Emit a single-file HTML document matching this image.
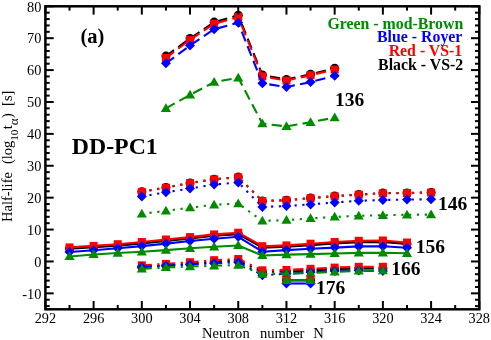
<!DOCTYPE html>
<html><head><meta charset="utf-8"><title>chart</title>
<style>
html,body{margin:0;padding:0;background:#fff;}
svg{display:block;font-family:"Liberation Serif",serif;will-change:opacity;}
</style></head><body>
<svg width="491" height="340" viewBox="0 0 491 340">
<polyline points="165.93,56.10 190.03,38.50 214.14,22.10 238.24,15.30 262.35,75.00 286.46,79.50 310.56,74.30 334.67,68.20" fill="none" stroke="#000000" stroke-width="2.1" stroke-dasharray="10.3 5.34" stroke-dashoffset="0.26" stroke-linejoin="round"/>
<circle cx="165.93" cy="56.10" r="4.5" fill="#000000"/>
<circle cx="190.03" cy="38.50" r="4.5" fill="#000000"/>
<circle cx="214.14" cy="22.10" r="4.5" fill="#000000"/>
<circle cx="238.24" cy="15.30" r="4.5" fill="#000000"/>
<circle cx="262.35" cy="75.00" r="4.5" fill="#000000"/>
<circle cx="286.46" cy="79.50" r="4.5" fill="#000000"/>
<circle cx="310.56" cy="74.30" r="4.5" fill="#000000"/>
<circle cx="334.67" cy="68.20" r="4.5" fill="#000000"/>
<polyline points="165.93,57.90 190.03,39.80 214.14,23.70 238.24,17.10 262.35,76.40 286.46,80.60 310.56,75.20 334.67,69.60" fill="none" stroke="#ff0000" stroke-width="2.1" stroke-dasharray="10.3 5.34" stroke-dashoffset="0.26" stroke-linejoin="round"/>
<rect x="161.93" y="53.90" width="8.0" height="8.0" fill="#ff0000"/>
<rect x="186.03" y="35.80" width="8.0" height="8.0" fill="#ff0000"/>
<rect x="210.14" y="19.70" width="8.0" height="8.0" fill="#ff0000"/>
<rect x="234.24" y="13.10" width="8.0" height="8.0" fill="#ff0000"/>
<rect x="258.35" y="72.40" width="8.0" height="8.0" fill="#ff0000"/>
<rect x="282.46" y="76.60" width="8.0" height="8.0" fill="#ff0000"/>
<rect x="306.56" y="71.20" width="8.0" height="8.0" fill="#ff0000"/>
<rect x="330.67" y="65.60" width="8.0" height="8.0" fill="#ff0000"/>
<polyline points="165.93,63.30 190.03,45.50 214.14,29.20 238.24,22.80 262.35,83.30 286.46,87.00 310.56,82.10 334.67,75.70" fill="none" stroke="#0000ff" stroke-width="2.1" stroke-dasharray="10.3 5.34" stroke-dashoffset="0.26" stroke-linejoin="round"/>
<path d="M165.93 58.30L170.93 63.30L165.93 68.30L160.93 63.30Z" fill="#0000ff"/>
<path d="M190.03 40.50L195.03 45.50L190.03 50.50L185.03 45.50Z" fill="#0000ff"/>
<path d="M214.14 24.20L219.14 29.20L214.14 34.20L209.14 29.20Z" fill="#0000ff"/>
<path d="M238.24 17.80L243.24 22.80L238.24 27.80L233.24 22.80Z" fill="#0000ff"/>
<path d="M262.35 78.30L267.35 83.30L262.35 88.30L257.35 83.30Z" fill="#0000ff"/>
<path d="M286.46 82.00L291.46 87.00L286.46 92.00L281.46 87.00Z" fill="#0000ff"/>
<path d="M310.56 77.10L315.56 82.10L310.56 87.10L305.56 82.10Z" fill="#0000ff"/>
<path d="M334.67 70.70L339.67 75.70L334.67 80.70L329.67 75.70Z" fill="#0000ff"/>
<polyline points="165.93,108.35 190.03,94.85 214.14,82.15 238.24,77.75 262.35,123.55 286.46,126.45 310.56,122.25 334.67,117.65" fill="none" stroke="#008b00" stroke-width="2.1" stroke-dasharray="10.3 5.34" stroke-dashoffset="0.26" stroke-linejoin="round"/>
<path d="M165.93 103.25L170.98 112.00L160.88 112.00Z" fill="#008b00"/>
<path d="M190.03 89.75L195.08 98.50L184.98 98.50Z" fill="#008b00"/>
<path d="M214.14 77.05L219.19 85.80L209.09 85.80Z" fill="#008b00"/>
<path d="M238.24 72.65L243.29 81.40L233.19 81.40Z" fill="#008b00"/>
<path d="M262.35 118.45L267.40 127.20L257.30 127.20Z" fill="#008b00"/>
<path d="M286.46 121.35L291.51 130.10L281.41 130.10Z" fill="#008b00"/>
<path d="M310.56 117.15L315.61 125.90L305.51 125.90Z" fill="#008b00"/>
<path d="M334.67 112.55L339.72 121.30L329.62 121.30Z" fill="#008b00"/>
<polyline points="141.82,191.70 165.93,187.50 190.03,183.00 214.14,179.20 238.24,177.10 262.35,200.90 286.46,200.20 310.56,198.00 334.67,196.10 358.77,194.50 382.88,193.10 406.98,192.90 431.09,192.40" fill="none" stroke="#000000" stroke-width="2.1" stroke-dasharray="2.2 5.62" stroke-dashoffset="0.12" stroke-linejoin="round"/>
<circle cx="141.82" cy="191.70" r="4.5" fill="#000000"/>
<circle cx="165.93" cy="187.50" r="4.5" fill="#000000"/>
<circle cx="190.03" cy="183.00" r="4.5" fill="#000000"/>
<circle cx="214.14" cy="179.20" r="4.5" fill="#000000"/>
<circle cx="238.24" cy="177.10" r="4.5" fill="#000000"/>
<circle cx="262.35" cy="200.90" r="4.5" fill="#000000"/>
<circle cx="286.46" cy="200.20" r="4.5" fill="#000000"/>
<circle cx="310.56" cy="198.00" r="4.5" fill="#000000"/>
<circle cx="334.67" cy="196.10" r="4.5" fill="#000000"/>
<circle cx="358.77" cy="194.50" r="4.5" fill="#000000"/>
<circle cx="382.88" cy="193.10" r="4.5" fill="#000000"/>
<circle cx="406.98" cy="192.90" r="4.5" fill="#000000"/>
<circle cx="431.09" cy="192.40" r="4.5" fill="#000000"/>
<polyline points="141.82,191.90 165.93,187.70 190.03,183.20 214.14,179.40 238.24,177.30 262.35,201.10 286.46,200.40 310.56,198.20 334.67,196.30 358.77,194.70 382.88,193.30 406.98,193.10 431.09,192.60" fill="none" stroke="#ff0000" stroke-width="2.1" stroke-dasharray="2.2 5.62" stroke-dashoffset="0.12" stroke-linejoin="round"/>
<rect x="137.82" y="187.90" width="8.0" height="8.0" fill="#ff0000"/>
<rect x="161.93" y="183.70" width="8.0" height="8.0" fill="#ff0000"/>
<rect x="186.03" y="179.20" width="8.0" height="8.0" fill="#ff0000"/>
<rect x="210.14" y="175.40" width="8.0" height="8.0" fill="#ff0000"/>
<rect x="234.24" y="173.30" width="8.0" height="8.0" fill="#ff0000"/>
<rect x="258.35" y="197.10" width="8.0" height="8.0" fill="#ff0000"/>
<rect x="282.46" y="196.40" width="8.0" height="8.0" fill="#ff0000"/>
<rect x="306.56" y="194.20" width="8.0" height="8.0" fill="#ff0000"/>
<rect x="330.67" y="192.30" width="8.0" height="8.0" fill="#ff0000"/>
<rect x="354.77" y="190.70" width="8.0" height="8.0" fill="#ff0000"/>
<rect x="378.88" y="189.30" width="8.0" height="8.0" fill="#ff0000"/>
<rect x="402.98" y="189.10" width="8.0" height="8.0" fill="#ff0000"/>
<rect x="427.09" y="188.60" width="8.0" height="8.0" fill="#ff0000"/>
<polyline points="141.82,196.60 165.93,192.20 190.03,188.50 214.14,184.60 238.24,182.40 262.35,206.90 286.46,206.10 310.56,204.40 334.67,202.50 358.77,200.80 382.88,200.00 406.98,199.50 431.09,199.30" fill="none" stroke="#0000ff" stroke-width="2.1" stroke-dasharray="2.2 5.62" stroke-dashoffset="0.12" stroke-linejoin="round"/>
<path d="M141.82 191.60L146.82 196.60L141.82 201.60L136.82 196.60Z" fill="#0000ff"/>
<path d="M165.93 187.20L170.93 192.20L165.93 197.20L160.93 192.20Z" fill="#0000ff"/>
<path d="M190.03 183.50L195.03 188.50L190.03 193.50L185.03 188.50Z" fill="#0000ff"/>
<path d="M214.14 179.60L219.14 184.60L214.14 189.60L209.14 184.60Z" fill="#0000ff"/>
<path d="M238.24 177.40L243.24 182.40L238.24 187.40L233.24 182.40Z" fill="#0000ff"/>
<path d="M262.35 201.90L267.35 206.90L262.35 211.90L257.35 206.90Z" fill="#0000ff"/>
<path d="M286.46 201.10L291.46 206.10L286.46 211.10L281.46 206.10Z" fill="#0000ff"/>
<path d="M310.56 199.40L315.56 204.40L310.56 209.40L305.56 204.40Z" fill="#0000ff"/>
<path d="M334.67 197.50L339.67 202.50L334.67 207.50L329.67 202.50Z" fill="#0000ff"/>
<path d="M358.77 195.80L363.77 200.80L358.77 205.80L353.77 200.80Z" fill="#0000ff"/>
<path d="M382.88 195.00L387.88 200.00L382.88 205.00L377.88 200.00Z" fill="#0000ff"/>
<path d="M406.98 194.50L411.98 199.50L406.98 204.50L401.98 199.50Z" fill="#0000ff"/>
<path d="M431.09 194.30L436.09 199.30L431.09 204.30L426.09 199.30Z" fill="#0000ff"/>
<polyline points="141.82,213.85 165.93,210.85 190.03,207.65 214.14,204.75 238.24,203.55 262.35,220.85 286.46,220.15 310.56,218.45 334.67,216.95 358.77,215.75 382.88,215.25 406.98,214.75 431.09,214.55" fill="none" stroke="#008b00" stroke-width="2.1" stroke-dasharray="2.2 5.62" stroke-dashoffset="0.12" stroke-linejoin="round"/>
<path d="M141.82 208.75L146.87 217.50L136.77 217.50Z" fill="#008b00"/>
<path d="M165.93 205.75L170.98 214.50L160.88 214.50Z" fill="#008b00"/>
<path d="M190.03 202.55L195.08 211.30L184.98 211.30Z" fill="#008b00"/>
<path d="M214.14 199.65L219.19 208.40L209.09 208.40Z" fill="#008b00"/>
<path d="M238.24 198.45L243.29 207.20L233.19 207.20Z" fill="#008b00"/>
<path d="M262.35 215.75L267.40 224.50L257.30 224.50Z" fill="#008b00"/>
<path d="M286.46 215.05L291.51 223.80L281.41 223.80Z" fill="#008b00"/>
<path d="M310.56 213.35L315.61 222.10L305.51 222.10Z" fill="#008b00"/>
<path d="M334.67 211.85L339.72 220.60L329.62 220.60Z" fill="#008b00"/>
<path d="M358.77 210.65L363.82 219.40L353.72 219.40Z" fill="#008b00"/>
<path d="M382.88 210.15L387.93 218.90L377.83 218.90Z" fill="#008b00"/>
<path d="M406.98 209.65L412.03 218.40L401.93 218.40Z" fill="#008b00"/>
<path d="M431.09 209.45L436.14 218.20L426.04 218.20Z" fill="#008b00"/>
<polyline points="69.51,248.80 93.61,247.30 117.72,245.60 141.82,243.40 165.93,240.90 190.03,238.50 214.14,235.80 238.24,234.10 262.35,247.60 286.46,246.80 310.56,245.10 334.67,243.40 358.77,242.20 382.88,241.90 406.98,243.90" fill="none" stroke="#000000" stroke-width="2.1" stroke-linejoin="round"/>
<circle cx="69.51" cy="248.80" r="4.5" fill="#000000"/>
<circle cx="93.61" cy="247.30" r="4.5" fill="#000000"/>
<circle cx="117.72" cy="245.60" r="4.5" fill="#000000"/>
<circle cx="141.82" cy="243.40" r="4.5" fill="#000000"/>
<circle cx="165.93" cy="240.90" r="4.5" fill="#000000"/>
<circle cx="190.03" cy="238.50" r="4.5" fill="#000000"/>
<circle cx="214.14" cy="235.80" r="4.5" fill="#000000"/>
<circle cx="238.24" cy="234.10" r="4.5" fill="#000000"/>
<circle cx="262.35" cy="247.60" r="4.5" fill="#000000"/>
<circle cx="286.46" cy="246.80" r="4.5" fill="#000000"/>
<circle cx="310.56" cy="245.10" r="4.5" fill="#000000"/>
<circle cx="334.67" cy="243.40" r="4.5" fill="#000000"/>
<circle cx="358.77" cy="242.20" r="4.5" fill="#000000"/>
<circle cx="382.88" cy="241.90" r="4.5" fill="#000000"/>
<circle cx="406.98" cy="243.90" r="4.5" fill="#000000"/>
<polyline points="69.51,247.40 93.61,245.90 117.72,244.20 141.82,242.00 165.93,239.50 190.03,237.10 214.14,234.40 238.24,232.70 262.35,246.20 286.46,245.40 310.56,243.70 334.67,242.00 358.77,240.80 382.88,240.50 406.98,242.50" fill="none" stroke="#ff0000" stroke-width="2.1" stroke-linejoin="round"/>
<rect x="65.51" y="243.40" width="8.0" height="8.0" fill="#ff0000"/>
<rect x="89.61" y="241.90" width="8.0" height="8.0" fill="#ff0000"/>
<rect x="113.72" y="240.20" width="8.0" height="8.0" fill="#ff0000"/>
<rect x="137.82" y="238.00" width="8.0" height="8.0" fill="#ff0000"/>
<rect x="161.93" y="235.50" width="8.0" height="8.0" fill="#ff0000"/>
<rect x="186.03" y="233.10" width="8.0" height="8.0" fill="#ff0000"/>
<rect x="210.14" y="230.40" width="8.0" height="8.0" fill="#ff0000"/>
<rect x="234.24" y="228.70" width="8.0" height="8.0" fill="#ff0000"/>
<rect x="258.35" y="242.20" width="8.0" height="8.0" fill="#ff0000"/>
<rect x="282.46" y="241.40" width="8.0" height="8.0" fill="#ff0000"/>
<rect x="306.56" y="239.70" width="8.0" height="8.0" fill="#ff0000"/>
<rect x="330.67" y="238.00" width="8.0" height="8.0" fill="#ff0000"/>
<rect x="354.77" y="236.80" width="8.0" height="8.0" fill="#ff0000"/>
<rect x="378.88" y="236.50" width="8.0" height="8.0" fill="#ff0000"/>
<rect x="402.98" y="238.50" width="8.0" height="8.0" fill="#ff0000"/>
<polyline points="69.51,252.00 93.61,250.30 117.72,248.30 141.82,246.10 165.93,243.60 190.03,241.00 214.14,238.80 238.24,236.80 262.35,251.70 286.46,250.10 310.56,248.70 334.67,247.60 358.77,246.40 382.88,246.20 406.98,247.80" fill="none" stroke="#0000ff" stroke-width="2.1" stroke-linejoin="round"/>
<path d="M69.51 247.00L74.51 252.00L69.51 257.00L64.51 252.00Z" fill="#0000ff"/>
<path d="M93.61 245.30L98.61 250.30L93.61 255.30L88.61 250.30Z" fill="#0000ff"/>
<path d="M117.72 243.30L122.72 248.30L117.72 253.30L112.72 248.30Z" fill="#0000ff"/>
<path d="M141.82 241.10L146.82 246.10L141.82 251.10L136.82 246.10Z" fill="#0000ff"/>
<path d="M165.93 238.60L170.93 243.60L165.93 248.60L160.93 243.60Z" fill="#0000ff"/>
<path d="M190.03 236.00L195.03 241.00L190.03 246.00L185.03 241.00Z" fill="#0000ff"/>
<path d="M214.14 233.80L219.14 238.80L214.14 243.80L209.14 238.80Z" fill="#0000ff"/>
<path d="M238.24 231.80L243.24 236.80L238.24 241.80L233.24 236.80Z" fill="#0000ff"/>
<path d="M262.35 246.70L267.35 251.70L262.35 256.70L257.35 251.70Z" fill="#0000ff"/>
<path d="M286.46 245.10L291.46 250.10L286.46 255.10L281.46 250.10Z" fill="#0000ff"/>
<path d="M310.56 243.70L315.56 248.70L310.56 253.70L305.56 248.70Z" fill="#0000ff"/>
<path d="M334.67 242.60L339.67 247.60L334.67 252.60L329.67 247.60Z" fill="#0000ff"/>
<path d="M358.77 241.40L363.77 246.40L358.77 251.40L353.77 246.40Z" fill="#0000ff"/>
<path d="M382.88 241.20L387.88 246.20L382.88 251.20L377.88 246.20Z" fill="#0000ff"/>
<path d="M406.98 242.80L411.98 247.80L406.98 252.80L401.98 247.80Z" fill="#0000ff"/>
<polyline points="69.51,256.45 93.61,254.45 117.72,253.05 141.82,251.75 165.93,250.15 190.03,248.25 214.14,246.75 238.24,245.45 262.35,255.45 286.46,254.65 310.56,254.15 334.67,253.45 358.77,252.85 382.88,252.75 406.98,253.25" fill="none" stroke="#008b00" stroke-width="2.1" stroke-linejoin="round"/>
<path d="M69.51 251.35L74.56 260.10L64.46 260.10Z" fill="#008b00"/>
<path d="M93.61 249.35L98.66 258.10L88.56 258.10Z" fill="#008b00"/>
<path d="M117.72 247.95L122.77 256.70L112.67 256.70Z" fill="#008b00"/>
<path d="M141.82 246.65L146.87 255.40L136.77 255.40Z" fill="#008b00"/>
<path d="M165.93 245.05L170.98 253.80L160.88 253.80Z" fill="#008b00"/>
<path d="M190.03 243.15L195.08 251.90L184.98 251.90Z" fill="#008b00"/>
<path d="M214.14 241.65L219.19 250.40L209.09 250.40Z" fill="#008b00"/>
<path d="M238.24 240.35L243.29 249.10L233.19 249.10Z" fill="#008b00"/>
<path d="M262.35 250.35L267.40 259.10L257.30 259.10Z" fill="#008b00"/>
<path d="M286.46 249.55L291.51 258.30L281.41 258.30Z" fill="#008b00"/>
<path d="M310.56 249.05L315.61 257.80L305.51 257.80Z" fill="#008b00"/>
<path d="M334.67 248.35L339.72 257.10L329.62 257.10Z" fill="#008b00"/>
<path d="M358.77 247.75L363.82 256.50L353.72 256.50Z" fill="#008b00"/>
<path d="M382.88 247.65L387.93 256.40L377.83 256.40Z" fill="#008b00"/>
<path d="M406.98 248.15L412.03 256.90L401.93 256.90Z" fill="#008b00"/>
<polyline points="141.82,266.90 165.93,265.50 190.03,263.80 214.14,261.80 238.24,260.60 262.35,271.90 286.46,271.60" fill="none" stroke="#000000" stroke-width="2.1" stroke-dasharray="10.3 5.49 2.2 5.47" stroke-dashoffset="0.26" stroke-linejoin="round"/>
<polyline points="286.46,271.60 310.56,270.40 334.67,269.20 358.77,268.40 382.88,268.40" fill="none" stroke="#000000" stroke-width="2.1" stroke-dasharray="10.3 5.49 2.2 5.47" stroke-dashoffset="16.76" stroke-linejoin="round"/>
<circle cx="141.82" cy="266.90" r="4.5" fill="#000000"/>
<circle cx="165.93" cy="265.50" r="4.5" fill="#000000"/>
<circle cx="190.03" cy="263.80" r="4.5" fill="#000000"/>
<circle cx="214.14" cy="261.80" r="4.5" fill="#000000"/>
<circle cx="238.24" cy="260.60" r="4.5" fill="#000000"/>
<circle cx="262.35" cy="271.90" r="4.5" fill="#000000"/>
<circle cx="286.46" cy="271.60" r="4.5" fill="#000000"/>
<circle cx="310.56" cy="270.40" r="4.5" fill="#000000"/>
<circle cx="334.67" cy="269.20" r="4.5" fill="#000000"/>
<circle cx="358.77" cy="268.40" r="4.5" fill="#000000"/>
<circle cx="382.88" cy="268.40" r="4.5" fill="#000000"/>
<polyline points="141.82,265.30 165.93,263.90 190.03,262.20 214.14,260.20 238.24,259.00 262.35,270.30 286.46,270.00" fill="none" stroke="#ff0000" stroke-width="2.1" stroke-dasharray="10.3 5.49 2.2 5.47" stroke-dashoffset="0.26" stroke-linejoin="round"/>
<polyline points="286.46,270.00 310.56,268.80 334.67,267.60 358.77,266.80 382.88,266.80" fill="none" stroke="#ff0000" stroke-width="2.1" stroke-dasharray="10.3 5.49 2.2 5.47" stroke-dashoffset="16.76" stroke-linejoin="round"/>
<rect x="137.82" y="261.30" width="8.0" height="8.0" fill="#ff0000"/>
<rect x="161.93" y="259.90" width="8.0" height="8.0" fill="#ff0000"/>
<rect x="186.03" y="258.20" width="8.0" height="8.0" fill="#ff0000"/>
<rect x="210.14" y="256.20" width="8.0" height="8.0" fill="#ff0000"/>
<rect x="234.24" y="255.00" width="8.0" height="8.0" fill="#ff0000"/>
<rect x="258.35" y="266.30" width="8.0" height="8.0" fill="#ff0000"/>
<rect x="282.46" y="266.00" width="8.0" height="8.0" fill="#ff0000"/>
<rect x="306.56" y="264.80" width="8.0" height="8.0" fill="#ff0000"/>
<rect x="330.67" y="263.60" width="8.0" height="8.0" fill="#ff0000"/>
<rect x="354.77" y="262.80" width="8.0" height="8.0" fill="#ff0000"/>
<rect x="378.88" y="262.80" width="8.0" height="8.0" fill="#ff0000"/>
<polyline points="141.82,267.10 165.93,265.80 190.03,264.50 214.14,263.30 238.24,262.20 262.35,275.20 286.46,273.80" fill="none" stroke="#0000ff" stroke-width="2.1" stroke-dasharray="10.3 5.49 2.2 5.47" stroke-dashoffset="0.26" stroke-linejoin="round"/>
<polyline points="286.46,273.80 310.56,272.30 334.67,271.10 358.77,270.60 382.88,271.00" fill="none" stroke="#0000ff" stroke-width="2.1" stroke-dasharray="10.3 5.49 2.2 5.47" stroke-dashoffset="16.76" stroke-linejoin="round"/>
<path d="M141.82 262.10L146.82 267.10L141.82 272.10L136.82 267.10Z" fill="#0000ff"/>
<path d="M165.93 260.80L170.93 265.80L165.93 270.80L160.93 265.80Z" fill="#0000ff"/>
<path d="M190.03 259.50L195.03 264.50L190.03 269.50L185.03 264.50Z" fill="#0000ff"/>
<path d="M214.14 258.30L219.14 263.30L214.14 268.30L209.14 263.30Z" fill="#0000ff"/>
<path d="M238.24 257.20L243.24 262.20L238.24 267.20L233.24 262.20Z" fill="#0000ff"/>
<path d="M262.35 270.20L267.35 275.20L262.35 280.20L257.35 275.20Z" fill="#0000ff"/>
<path d="M286.46 268.80L291.46 273.80L286.46 278.80L281.46 273.80Z" fill="#0000ff"/>
<path d="M310.56 267.30L315.56 272.30L310.56 277.30L305.56 272.30Z" fill="#0000ff"/>
<path d="M334.67 266.10L339.67 271.10L334.67 276.10L329.67 271.10Z" fill="#0000ff"/>
<path d="M358.77 265.60L363.77 270.60L358.77 275.60L353.77 270.60Z" fill="#0000ff"/>
<path d="M382.88 266.00L387.88 271.00L382.88 276.00L377.88 271.00Z" fill="#0000ff"/>
<polyline points="141.82,268.95 165.93,267.45 190.03,266.55 214.14,265.75 238.24,265.05 262.35,274.15 286.46,273.55" fill="none" stroke="#008b00" stroke-width="2.1" stroke-dasharray="10.3 5.49 2.2 5.47" stroke-dashoffset="0.26" stroke-linejoin="round"/>
<polyline points="286.46,273.55 310.56,273.15 334.67,271.85 358.77,270.85 382.88,270.65" fill="none" stroke="#008b00" stroke-width="2.1" stroke-dasharray="10.3 5.49 2.2 5.47" stroke-dashoffset="16.76" stroke-linejoin="round"/>
<path d="M141.82 263.85L146.87 272.60L136.77 272.60Z" fill="#008b00"/>
<path d="M165.93 262.35L170.98 271.10L160.88 271.10Z" fill="#008b00"/>
<path d="M190.03 261.45L195.08 270.20L184.98 270.20Z" fill="#008b00"/>
<path d="M214.14 260.65L219.19 269.40L209.09 269.40Z" fill="#008b00"/>
<path d="M238.24 259.95L243.29 268.70L233.19 268.70Z" fill="#008b00"/>
<path d="M262.35 269.05L267.40 277.80L257.30 277.80Z" fill="#008b00"/>
<path d="M286.46 268.45L291.51 277.20L281.41 277.20Z" fill="#008b00"/>
<path d="M310.56 268.05L315.61 276.80L305.51 276.80Z" fill="#008b00"/>
<path d="M334.67 266.75L339.72 275.50L329.62 275.50Z" fill="#008b00"/>
<path d="M358.77 265.75L363.82 274.50L353.72 274.50Z" fill="#008b00"/>
<path d="M382.88 265.55L387.93 274.30L377.83 274.30Z" fill="#008b00"/>
<polyline points="286.46,280.20 310.56,280.20" fill="none" stroke="#000000" stroke-width="2.1" stroke-linejoin="round"/>
<circle cx="286.46" cy="280.20" r="4.5" fill="#000000"/>
<circle cx="310.56" cy="280.20" r="4.5" fill="#000000"/>
<polyline points="286.46,280.20 310.56,280.20" fill="none" stroke="#ff0000" stroke-width="2.1" stroke-linejoin="round"/>
<rect x="282.46" y="276.20" width="8.0" height="8.0" fill="#ff0000"/>
<rect x="306.56" y="276.20" width="8.0" height="8.0" fill="#ff0000"/>
<polyline points="286.46,283.50 310.56,283.50" fill="none" stroke="#0000ff" stroke-width="2.1" stroke-linejoin="round"/>
<path d="M286.46 278.50L291.46 283.50L286.46 288.50L281.46 283.50Z" fill="#0000ff"/>
<path d="M310.56 278.50L315.56 283.50L310.56 288.50L305.56 283.50Z" fill="#0000ff"/>
<polyline points="286.46,280.40 310.56,280.40" fill="none" stroke="#008b00" stroke-width="2.1" stroke-linejoin="round"/>
<path d="M286.46 275.30L291.51 284.05L281.41 284.05Z" fill="#008b00"/>
<path d="M310.56 275.30L315.61 284.05L305.51 284.05Z" fill="#008b00"/>
<rect x="45.4" y="6.3" width="433.90" height="303.00" fill="none" stroke="#000" stroke-width="2.5"/>
<line x1="45.40" y1="309.3" x2="45.40" y2="301.00" stroke="#000" stroke-width="2.0"/>
<line x1="45.40" y1="6.3" x2="45.40" y2="14.60" stroke="#000" stroke-width="2.0"/>
<line x1="69.51" y1="309.3" x2="69.51" y2="305.00" stroke="#000" stroke-width="2.0"/>
<line x1="69.51" y1="6.3" x2="69.51" y2="10.60" stroke="#000" stroke-width="2.0"/>
<line x1="93.61" y1="309.3" x2="93.61" y2="301.00" stroke="#000" stroke-width="2.0"/>
<line x1="93.61" y1="6.3" x2="93.61" y2="14.60" stroke="#000" stroke-width="2.0"/>
<line x1="117.72" y1="309.3" x2="117.72" y2="305.00" stroke="#000" stroke-width="2.0"/>
<line x1="117.72" y1="6.3" x2="117.72" y2="10.60" stroke="#000" stroke-width="2.0"/>
<line x1="141.82" y1="309.3" x2="141.82" y2="301.00" stroke="#000" stroke-width="2.0"/>
<line x1="141.82" y1="6.3" x2="141.82" y2="14.60" stroke="#000" stroke-width="2.0"/>
<line x1="165.93" y1="309.3" x2="165.93" y2="305.00" stroke="#000" stroke-width="2.0"/>
<line x1="165.93" y1="6.3" x2="165.93" y2="10.60" stroke="#000" stroke-width="2.0"/>
<line x1="190.03" y1="309.3" x2="190.03" y2="301.00" stroke="#000" stroke-width="2.0"/>
<line x1="190.03" y1="6.3" x2="190.03" y2="14.60" stroke="#000" stroke-width="2.0"/>
<line x1="214.14" y1="309.3" x2="214.14" y2="305.00" stroke="#000" stroke-width="2.0"/>
<line x1="214.14" y1="6.3" x2="214.14" y2="10.60" stroke="#000" stroke-width="2.0"/>
<line x1="238.24" y1="309.3" x2="238.24" y2="301.00" stroke="#000" stroke-width="2.0"/>
<line x1="238.24" y1="6.3" x2="238.24" y2="14.60" stroke="#000" stroke-width="2.0"/>
<line x1="262.35" y1="309.3" x2="262.35" y2="305.00" stroke="#000" stroke-width="2.0"/>
<line x1="262.35" y1="6.3" x2="262.35" y2="10.60" stroke="#000" stroke-width="2.0"/>
<line x1="286.46" y1="309.3" x2="286.46" y2="301.00" stroke="#000" stroke-width="2.0"/>
<line x1="286.46" y1="6.3" x2="286.46" y2="14.60" stroke="#000" stroke-width="2.0"/>
<line x1="310.56" y1="309.3" x2="310.56" y2="305.00" stroke="#000" stroke-width="2.0"/>
<line x1="310.56" y1="6.3" x2="310.56" y2="10.60" stroke="#000" stroke-width="2.0"/>
<line x1="334.67" y1="309.3" x2="334.67" y2="301.00" stroke="#000" stroke-width="2.0"/>
<line x1="334.67" y1="6.3" x2="334.67" y2="14.60" stroke="#000" stroke-width="2.0"/>
<line x1="358.77" y1="309.3" x2="358.77" y2="305.00" stroke="#000" stroke-width="2.0"/>
<line x1="358.77" y1="6.3" x2="358.77" y2="10.60" stroke="#000" stroke-width="2.0"/>
<line x1="382.88" y1="309.3" x2="382.88" y2="301.00" stroke="#000" stroke-width="2.0"/>
<line x1="382.88" y1="6.3" x2="382.88" y2="14.60" stroke="#000" stroke-width="2.0"/>
<line x1="406.98" y1="309.3" x2="406.98" y2="305.00" stroke="#000" stroke-width="2.0"/>
<line x1="406.98" y1="6.3" x2="406.98" y2="10.60" stroke="#000" stroke-width="2.0"/>
<line x1="431.09" y1="309.3" x2="431.09" y2="301.00" stroke="#000" stroke-width="2.0"/>
<line x1="431.09" y1="6.3" x2="431.09" y2="14.60" stroke="#000" stroke-width="2.0"/>
<line x1="455.19" y1="309.3" x2="455.19" y2="305.00" stroke="#000" stroke-width="2.0"/>
<line x1="455.19" y1="6.3" x2="455.19" y2="10.60" stroke="#000" stroke-width="2.0"/>
<line x1="479.30" y1="309.3" x2="479.30" y2="301.00" stroke="#000" stroke-width="2.0"/>
<line x1="479.30" y1="6.3" x2="479.30" y2="14.60" stroke="#000" stroke-width="2.0"/>
<line x1="45.4" y1="306.11" x2="49.70" y2="306.11" stroke="#000" stroke-width="2.0"/>
<line x1="479.3" y1="306.11" x2="475.00" y2="306.11" stroke="#000" stroke-width="2.0"/>
<line x1="45.4" y1="299.73" x2="49.70" y2="299.73" stroke="#000" stroke-width="2.0"/>
<line x1="479.3" y1="299.73" x2="475.00" y2="299.73" stroke="#000" stroke-width="2.0"/>
<line x1="45.4" y1="293.35" x2="53.70" y2="293.35" stroke="#000" stroke-width="2.0"/>
<line x1="479.3" y1="293.35" x2="471.00" y2="293.35" stroke="#000" stroke-width="2.0"/>
<line x1="45.4" y1="286.97" x2="49.70" y2="286.97" stroke="#000" stroke-width="2.0"/>
<line x1="479.3" y1="286.97" x2="475.00" y2="286.97" stroke="#000" stroke-width="2.0"/>
<line x1="45.4" y1="280.59" x2="49.70" y2="280.59" stroke="#000" stroke-width="2.0"/>
<line x1="479.3" y1="280.59" x2="475.00" y2="280.59" stroke="#000" stroke-width="2.0"/>
<line x1="45.4" y1="274.22" x2="49.70" y2="274.22" stroke="#000" stroke-width="2.0"/>
<line x1="479.3" y1="274.22" x2="475.00" y2="274.22" stroke="#000" stroke-width="2.0"/>
<line x1="45.4" y1="267.84" x2="49.70" y2="267.84" stroke="#000" stroke-width="2.0"/>
<line x1="479.3" y1="267.84" x2="475.00" y2="267.84" stroke="#000" stroke-width="2.0"/>
<line x1="45.4" y1="261.46" x2="53.70" y2="261.46" stroke="#000" stroke-width="2.0"/>
<line x1="479.3" y1="261.46" x2="471.00" y2="261.46" stroke="#000" stroke-width="2.0"/>
<line x1="45.4" y1="255.08" x2="49.70" y2="255.08" stroke="#000" stroke-width="2.0"/>
<line x1="479.3" y1="255.08" x2="475.00" y2="255.08" stroke="#000" stroke-width="2.0"/>
<line x1="45.4" y1="248.70" x2="49.70" y2="248.70" stroke="#000" stroke-width="2.0"/>
<line x1="479.3" y1="248.70" x2="475.00" y2="248.70" stroke="#000" stroke-width="2.0"/>
<line x1="45.4" y1="242.32" x2="49.70" y2="242.32" stroke="#000" stroke-width="2.0"/>
<line x1="479.3" y1="242.32" x2="475.00" y2="242.32" stroke="#000" stroke-width="2.0"/>
<line x1="45.4" y1="235.94" x2="49.70" y2="235.94" stroke="#000" stroke-width="2.0"/>
<line x1="479.3" y1="235.94" x2="475.00" y2="235.94" stroke="#000" stroke-width="2.0"/>
<line x1="45.4" y1="229.56" x2="53.70" y2="229.56" stroke="#000" stroke-width="2.0"/>
<line x1="479.3" y1="229.56" x2="471.00" y2="229.56" stroke="#000" stroke-width="2.0"/>
<line x1="45.4" y1="223.18" x2="49.70" y2="223.18" stroke="#000" stroke-width="2.0"/>
<line x1="479.3" y1="223.18" x2="475.00" y2="223.18" stroke="#000" stroke-width="2.0"/>
<line x1="45.4" y1="216.81" x2="49.70" y2="216.81" stroke="#000" stroke-width="2.0"/>
<line x1="479.3" y1="216.81" x2="475.00" y2="216.81" stroke="#000" stroke-width="2.0"/>
<line x1="45.4" y1="210.43" x2="49.70" y2="210.43" stroke="#000" stroke-width="2.0"/>
<line x1="479.3" y1="210.43" x2="475.00" y2="210.43" stroke="#000" stroke-width="2.0"/>
<line x1="45.4" y1="204.05" x2="49.70" y2="204.05" stroke="#000" stroke-width="2.0"/>
<line x1="479.3" y1="204.05" x2="475.00" y2="204.05" stroke="#000" stroke-width="2.0"/>
<line x1="45.4" y1="197.67" x2="53.70" y2="197.67" stroke="#000" stroke-width="2.0"/>
<line x1="479.3" y1="197.67" x2="471.00" y2="197.67" stroke="#000" stroke-width="2.0"/>
<line x1="45.4" y1="191.29" x2="49.70" y2="191.29" stroke="#000" stroke-width="2.0"/>
<line x1="479.3" y1="191.29" x2="475.00" y2="191.29" stroke="#000" stroke-width="2.0"/>
<line x1="45.4" y1="184.91" x2="49.70" y2="184.91" stroke="#000" stroke-width="2.0"/>
<line x1="479.3" y1="184.91" x2="475.00" y2="184.91" stroke="#000" stroke-width="2.0"/>
<line x1="45.4" y1="178.53" x2="49.70" y2="178.53" stroke="#000" stroke-width="2.0"/>
<line x1="479.3" y1="178.53" x2="475.00" y2="178.53" stroke="#000" stroke-width="2.0"/>
<line x1="45.4" y1="172.15" x2="49.70" y2="172.15" stroke="#000" stroke-width="2.0"/>
<line x1="479.3" y1="172.15" x2="475.00" y2="172.15" stroke="#000" stroke-width="2.0"/>
<line x1="45.4" y1="165.77" x2="53.70" y2="165.77" stroke="#000" stroke-width="2.0"/>
<line x1="479.3" y1="165.77" x2="471.00" y2="165.77" stroke="#000" stroke-width="2.0"/>
<line x1="45.4" y1="159.39" x2="49.70" y2="159.39" stroke="#000" stroke-width="2.0"/>
<line x1="479.3" y1="159.39" x2="475.00" y2="159.39" stroke="#000" stroke-width="2.0"/>
<line x1="45.4" y1="153.02" x2="49.70" y2="153.02" stroke="#000" stroke-width="2.0"/>
<line x1="479.3" y1="153.02" x2="475.00" y2="153.02" stroke="#000" stroke-width="2.0"/>
<line x1="45.4" y1="146.64" x2="49.70" y2="146.64" stroke="#000" stroke-width="2.0"/>
<line x1="479.3" y1="146.64" x2="475.00" y2="146.64" stroke="#000" stroke-width="2.0"/>
<line x1="45.4" y1="140.26" x2="49.70" y2="140.26" stroke="#000" stroke-width="2.0"/>
<line x1="479.3" y1="140.26" x2="475.00" y2="140.26" stroke="#000" stroke-width="2.0"/>
<line x1="45.4" y1="133.88" x2="53.70" y2="133.88" stroke="#000" stroke-width="2.0"/>
<line x1="479.3" y1="133.88" x2="471.00" y2="133.88" stroke="#000" stroke-width="2.0"/>
<line x1="45.4" y1="127.50" x2="49.70" y2="127.50" stroke="#000" stroke-width="2.0"/>
<line x1="479.3" y1="127.50" x2="475.00" y2="127.50" stroke="#000" stroke-width="2.0"/>
<line x1="45.4" y1="121.12" x2="49.70" y2="121.12" stroke="#000" stroke-width="2.0"/>
<line x1="479.3" y1="121.12" x2="475.00" y2="121.12" stroke="#000" stroke-width="2.0"/>
<line x1="45.4" y1="114.74" x2="49.70" y2="114.74" stroke="#000" stroke-width="2.0"/>
<line x1="479.3" y1="114.74" x2="475.00" y2="114.74" stroke="#000" stroke-width="2.0"/>
<line x1="45.4" y1="108.36" x2="49.70" y2="108.36" stroke="#000" stroke-width="2.0"/>
<line x1="479.3" y1="108.36" x2="475.00" y2="108.36" stroke="#000" stroke-width="2.0"/>
<line x1="45.4" y1="101.98" x2="53.70" y2="101.98" stroke="#000" stroke-width="2.0"/>
<line x1="479.3" y1="101.98" x2="471.00" y2="101.98" stroke="#000" stroke-width="2.0"/>
<line x1="45.4" y1="95.61" x2="49.70" y2="95.61" stroke="#000" stroke-width="2.0"/>
<line x1="479.3" y1="95.61" x2="475.00" y2="95.61" stroke="#000" stroke-width="2.0"/>
<line x1="45.4" y1="89.23" x2="49.70" y2="89.23" stroke="#000" stroke-width="2.0"/>
<line x1="479.3" y1="89.23" x2="475.00" y2="89.23" stroke="#000" stroke-width="2.0"/>
<line x1="45.4" y1="82.85" x2="49.70" y2="82.85" stroke="#000" stroke-width="2.0"/>
<line x1="479.3" y1="82.85" x2="475.00" y2="82.85" stroke="#000" stroke-width="2.0"/>
<line x1="45.4" y1="76.47" x2="49.70" y2="76.47" stroke="#000" stroke-width="2.0"/>
<line x1="479.3" y1="76.47" x2="475.00" y2="76.47" stroke="#000" stroke-width="2.0"/>
<line x1="45.4" y1="70.09" x2="53.70" y2="70.09" stroke="#000" stroke-width="2.0"/>
<line x1="479.3" y1="70.09" x2="471.00" y2="70.09" stroke="#000" stroke-width="2.0"/>
<line x1="45.4" y1="63.71" x2="49.70" y2="63.71" stroke="#000" stroke-width="2.0"/>
<line x1="479.3" y1="63.71" x2="475.00" y2="63.71" stroke="#000" stroke-width="2.0"/>
<line x1="45.4" y1="57.33" x2="49.70" y2="57.33" stroke="#000" stroke-width="2.0"/>
<line x1="479.3" y1="57.33" x2="475.00" y2="57.33" stroke="#000" stroke-width="2.0"/>
<line x1="45.4" y1="50.95" x2="49.70" y2="50.95" stroke="#000" stroke-width="2.0"/>
<line x1="479.3" y1="50.95" x2="475.00" y2="50.95" stroke="#000" stroke-width="2.0"/>
<line x1="45.4" y1="44.57" x2="49.70" y2="44.57" stroke="#000" stroke-width="2.0"/>
<line x1="479.3" y1="44.57" x2="475.00" y2="44.57" stroke="#000" stroke-width="2.0"/>
<line x1="45.4" y1="38.19" x2="53.70" y2="38.19" stroke="#000" stroke-width="2.0"/>
<line x1="479.3" y1="38.19" x2="471.00" y2="38.19" stroke="#000" stroke-width="2.0"/>
<line x1="45.4" y1="31.82" x2="49.70" y2="31.82" stroke="#000" stroke-width="2.0"/>
<line x1="479.3" y1="31.82" x2="475.00" y2="31.82" stroke="#000" stroke-width="2.0"/>
<line x1="45.4" y1="25.44" x2="49.70" y2="25.44" stroke="#000" stroke-width="2.0"/>
<line x1="479.3" y1="25.44" x2="475.00" y2="25.44" stroke="#000" stroke-width="2.0"/>
<line x1="45.4" y1="19.06" x2="49.70" y2="19.06" stroke="#000" stroke-width="2.0"/>
<line x1="479.3" y1="19.06" x2="475.00" y2="19.06" stroke="#000" stroke-width="2.0"/>
<line x1="45.4" y1="12.68" x2="49.70" y2="12.68" stroke="#000" stroke-width="2.0"/>
<line x1="479.3" y1="12.68" x2="475.00" y2="12.68" stroke="#000" stroke-width="2.0"/>
<line x1="45.4" y1="6.30" x2="53.70" y2="6.30" stroke="#000" stroke-width="2.0"/>
<line x1="479.3" y1="6.30" x2="471.00" y2="6.30" stroke="#000" stroke-width="2.0"/>
<text x="45.40" y="323" text-anchor="middle" font-size="14.3">292</text>
<text x="93.61" y="323" text-anchor="middle" font-size="14.3">296</text>
<text x="141.82" y="323" text-anchor="middle" font-size="14.3">300</text>
<text x="190.03" y="323" text-anchor="middle" font-size="14.3">304</text>
<text x="238.24" y="323" text-anchor="middle" font-size="14.3">308</text>
<text x="286.46" y="323" text-anchor="middle" font-size="14.3">312</text>
<text x="334.67" y="323" text-anchor="middle" font-size="14.3">316</text>
<text x="382.88" y="323" text-anchor="middle" font-size="14.3">320</text>
<text x="431.09" y="323" text-anchor="middle" font-size="14.3">324</text>
<text x="479.30" y="323" text-anchor="middle" font-size="14.3">328</text>
 <text x="41.3" y="298.55" text-anchor="end" font-size="14.3">-10</text>
 <text x="41.3" y="266.66" text-anchor="end" font-size="14.3">0</text>
 <text x="41.3" y="234.76" text-anchor="end" font-size="14.3">10</text>
 <text x="41.3" y="202.87" text-anchor="end" font-size="14.3">20</text>
 <text x="41.3" y="170.97" text-anchor="end" font-size="14.3">30</text>
 <text x="41.3" y="139.08" text-anchor="end" font-size="14.3">40</text>
 <text x="41.3" y="107.18" text-anchor="end" font-size="14.3">50</text>
 <text x="41.3" y="75.29" text-anchor="end" font-size="14.3">60</text>
 <text x="41.3" y="43.39" text-anchor="end" font-size="14.3">70</text>
 <text x="41.3" y="11.50" text-anchor="end" font-size="14.3">80</text>
<text x="201.9" y="337.7" font-size="14.6">Neutron</text>
<text x="259.9" y="337.7" font-size="14.6">number</text>
<text x="313.3" y="337.7" font-size="14.6">N</text>
<text transform="translate(11.8,222.0) rotate(-90)" font-size="14.5">Half-life</text>
<text transform="translate(11.8,164.1) rotate(-90)" font-size="14.5">(log<tspan font-size="11.2" dy="5.8">10</tspan><tspan dy="-5.8" dx="0.4">t</tspan><tspan font-size="13.2" dy="6.5">α</tspan><tspan dy="-6.5" dx="0.3">)</tspan></text>
<text transform="translate(11.8,105.9) rotate(-90)" font-size="14.5">[s]</text>
<text x="463.3" y="29.3" text-anchor="end" font-size="15.85" font-weight="bold" fill="#008b00">Green - mod-Brown</text>
<text x="462.4" y="42.3" text-anchor="end" font-size="15.85" font-weight="bold" fill="#0000ff">Blue - Royer</text>
<text x="462.3" y="55.7" text-anchor="end" font-size="15.85" font-weight="bold" fill="#ff0000">Red - VS-1</text>
<text x="463.2" y="69.7" text-anchor="end" font-size="15.85" font-weight="bold" fill="#000000">Black - VS-2</text>
<text x="80.5" y="42.7" font-size="20.5" font-weight="bold">(a)</text>
<text x="71.8" y="154.3" font-size="23.8" font-weight="bold">DD-PC1</text>
<text x="334.9" y="106" font-size="19.5" font-weight="bold">136</text>
<text x="438.1" y="210" font-size="19.5" font-weight="bold">146</text>
<text x="415.8" y="253.1" font-size="19.5" font-weight="bold">156</text>
<text x="391.3" y="275.1" font-size="19.5" font-weight="bold">166</text>
<text x="316.0" y="294.4" font-size="19.5" font-weight="bold">176</text>
</svg>
</body></html>
